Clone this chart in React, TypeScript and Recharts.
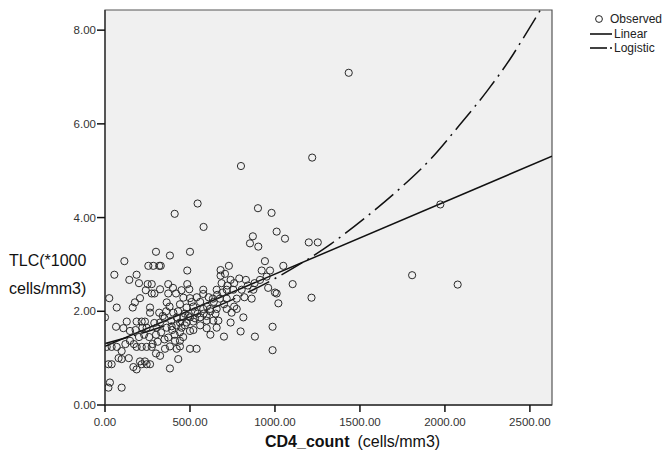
import { CartesianGrid, ComposedChart, Legend, Line, ReferenceArea, Scatter, XAxis, YAxis } from "recharts";

// values
const observedCd4 = [
  300, 382, 500, 114, 255, 284, 319, 328, 55, 143, 186, 484, 251, 275, 372, 484, 496, 275, 291, 324,
  372, 418, 461, 500, 578, 25, 206, 176, 163, 69, 265, 265, 363, 441, 480, 0, 319, 402, 422, 461,
  500, 559, 598, 128, 186, 216, 235, 65, 108, 147, 245, 304, 363, 392, 324, 441, 480, 519, 500, 441,
  147, 372, 412, 441, 10, 39, 69, 186, 216, 245, 275, 98, 353, 382, 422, 441, 500, 539, 324, 20,
  39, 98, 206, 235, 216, 245, 265, 167, 186, 431, 382, 20, 29, 98,
  853, 902, 1059, 729, 680, 706, 680, 941, 922, 971, 1049, 739, 686, 829, 912, 951, 1104, 578, 657, 716,
  755, 804, 873, 635, 676, 716, 775, 863, 1010, 1020, 1215, 578, 618, 657, 716, 775, 745, 598, 637, 667,
  598, 657, 739, 814, 798, 700, 882, 986, 986,
  1434, 1219, 1199, 1252, 1973, 1807, 2075, 410, 545, 580, 800, 900, 980, 870, 1010,
  350, 390, 430, 470, 520, 540, 560, 610, 450, 400, 530, 350, 300, 280, 230, 200, 170, 120, 80, 140,
  300, 460, 520, 620, 650, 700, 760, 820, 840, 880, 960, 1000,
  340, 360, 380, 395, 410, 420, 450, 470, 490, 510, 530, 545, 560, 580, 600, 620, 640, 660, 690, 720,
  760, 790, 180, 220, 260, 290, 310, 330, 240, 200,
];
const observedTlc = [
  3.27, 3.19, 3.27, 3.07, 2.97, 2.97, 2.97, 2.97, 2.78, 2.67, 2.78, 2.87, 2.58, 2.58, 2.58, 2.58, 2.47, 2.38, 2.38, 2.47,
  2.38, 2.38, 2.29, 2.28, 2.37, 2.28, 2.28, 2.19, 2.08, 2.08, 2.08, 1.97, 2.19, 2.15, 2.08, 1.87, 1.97, 1.97, 1.87, 1.87,
  1.87, 1.87, 1.9, 1.78, 1.78, 1.78, 1.78, 1.67, 1.64, 1.58, 1.65, 1.65, 1.65, 1.68, 1.76, 1.76, 1.76, 1.78, 1.58, 1.55,
  1.37, 1.44, 1.37, 1.37, 1.24, 1.24, 1.24, 1.24, 1.24, 1.24, 1.24, 1.15, 1.2, 1.25, 1.2, 1.25, 1.2, 1.2, 1.05, 0.87,
  0.87, 0.98, 0.93, 0.93, 0.87, 0.87, 0.87, 0.81, 0.76, 0.98, 0.78, 0.37, 0.48, 0.37,
  3.45, 3.38, 3.55, 2.97, 2.88, 2.8, 2.76, 3.07, 2.87, 2.87, 2.97, 2.67, 2.6, 2.67, 2.67, 2.74, 2.58, 2.46, 2.46, 2.46,
  2.46, 2.46, 2.46, 2.27, 2.27, 2.27, 2.27, 2.27, 2.38, 2.17, 2.29, 2.05, 2.05, 2.05, 2.05, 2.05, 1.97, 1.8, 1.8, 1.8,
  1.64, 1.65, 1.76, 1.87, 1.57, 1.46, 1.46, 1.67, 1.17,
  7.09, 5.28, 3.47, 3.47, 4.28, 2.77, 2.57, 4.08, 4.3, 3.8, 5.1, 4.2, 4.1, 3.6, 3.7,
  1.85, 1.8, 2.0, 1.95, 2.1, 2.3, 2.2, 2.3, 2.45, 2.5, 2.0, 1.4, 1.5, 1.3, 1.5, 1.45, 1.3, 1.3, 1.0, 1.0,
  1.1, 1.45, 1.6, 1.5, 1.95, 2.15, 2.1, 2.3, 2.55, 2.6, 2.5, 2.4,
  1.9, 2.0, 2.1, 1.6, 1.5, 1.7, 1.65, 1.7, 1.9, 2.2, 1.85, 1.95, 1.7, 1.95, 2.1, 2.0, 2.2, 2.35, 2.4, 2.55,
  2.6, 2.7, 1.6, 1.65, 1.45, 1.75, 1.35, 1.55, 2.45, 2.6,
];

const linearCd4 = [0, 2630];
const linearTlc = [1.25, 5.31];

const logisticCd4 = [0, 250, 500, 750, 1000, 1330, 1536, 1732, 1919, 2085, 2252, 2399, 2454, 2562];
const logisticTlc = [1.31, 1.57, 1.88, 2.25, 2.7, 3.44, 4.01, 4.61, 5.26, 5.97, 6.72, 7.47, 7.79, 8.43];

const xTicks = [0, 500, 1000, 1500, 2000, 2500];
const yTicks = [0, 2, 4, 6, 8];

const observed = observedCd4.map((x, i) => ({ x, y: observedTlc[i] }));
const linear = linearCd4.map((x, i) => ({ x, y: linearTlc[i] }));
const logistic = logisticCd4.map((x, i) => ({ x, y: logisticTlc[i] }));

const FONT = "'Liberation Sans', Arial, sans-serif";
const X_MAX = 2630;
const Y_MAX = 8.43;

const OpenCircle = (props: any) => (
  <circle cx={props.cx} cy={props.cy} r={3.6} fill="none" stroke="#2a2a2a" strokeWidth={1} />
);

const LegendBox = () => {
  const row = { display: "flex", alignItems: "center", height: 14.5 } as const;
  return (
    <div style={{ fontFamily: FONT, fontSize: 12, color: "#222" }}>
      <div style={row}>
        <svg width={29} height={14}>
          <circle cx={14} cy={7} r={3.4} fill="none" stroke="#222" />
        </svg>
        <span>Observed</span>
      </div>
      <div style={row}>
        <svg width={29} height={14}>
          <line x1={5} y1={7} x2={27} y2={7} stroke="#111" strokeWidth={1.6} />
        </svg>
        <span>Linear</span>
      </div>
      <div style={row}>
        <svg width={29} height={14}>
          <line x1={5} y1={7} x2={22} y2={7} stroke="#111" strokeWidth={1.6} />
          <line x1={25} y1={7} x2={27} y2={7} stroke="#111" strokeWidth={1.6} />
        </svg>
        <span>Logistic</span>
      </div>
    </div>
  );
};

const YTitle = () => (
  <text fontFamily={FONT} fontSize={16} fill="#111">
    <tspan x={9} y={266}>TLC(*1000</tspan>
    <tspan x={9} y={294}>cells/mm3)</tspan>
  </text>
);

const XTitle = () => (
  <text x={265} y={447} fontFamily={FONT} fontSize={16} fill="#111">
    <tspan fontWeight="bold">CD4_count</tspan>
    <tspan dx={8}>(cells/mm3)</tspan>
  </text>
);

export default function App() {
  return (
    <div style={{ position: "absolute", left: 0, top: 0, width: 662, height: 459, background: "#fff" }}>
      <ComposedChart width={662} height={459} margin={{ top: 10, right: 110, bottom: 0, left: 0 }}>
        <CartesianGrid fill="#f0f0f0" horizontal={false} vertical={false} />
        <XAxis
          dataKey="x"
          type="number"
          domain={[0, X_MAX]}
          ticks={xTicks}
          allowDataOverflow
          height={54}
          tickSize={7}
          tickMargin={6}
          tickFormatter={(v: number) => v.toFixed(2)}
          tick={{ fontFamily: FONT, fontSize: 11.5, fill: "#333" }}
          tickLine={{ stroke: "#111", strokeWidth: 1.5 }}
          axisLine={{ stroke: "#333", strokeWidth: 1.3 }}
          label={{ content: () => <XTitle /> }}
        />
        <YAxis
          dataKey="y"
          type="number"
          domain={[0, Y_MAX]}
          ticks={yTicks}
          allowDataOverflow
          width={105}
          tickSize={8}
          tickMargin={1}
          tickFormatter={(v: number) => v.toFixed(2)}
          tick={{ fontFamily: FONT, fontSize: 11.5, fill: "#333" }}
          tickLine={{ stroke: "#111", strokeWidth: 1.5 }}
          axisLine={{ stroke: "#333", strokeWidth: 1.3 }}
          label={{ content: () => <YTitle /> }}
        />
        <Scatter name="Observed" data={observed} dataKey="y" shape={OpenCircle} isAnimationActive={false} />
        <Line
          name="Linear"
          data={linear}
          dataKey="y"
          type="linear"
          stroke="#111"
          strokeWidth={1.5}
          dot={false}
          activeDot={false}
          isAnimationActive={false}
        />
        <Line
          name="Logistic"
          data={logistic}
          dataKey="y"
          type="monotone"
          stroke="#111"
          strokeWidth={1.5}
          strokeDasharray="24 6 2 6"
          dot={false}
          activeDot={false}
          isAnimationActive={false}
        />
        <ReferenceArea x1={0} x2={X_MAX} y1={0} y2={Y_MAX} fill="none" stroke="#555" strokeWidth={1.2} ifOverflow="visible" />
        <Legend
          layout="vertical"
          align="center"
          verticalAlign="middle"
          content={() => <LegendBox />}
          wrapperStyle={{ left: 585, top: 12, width: 77 }}
        />
      </ComposedChart>
    </div>
  );
}
